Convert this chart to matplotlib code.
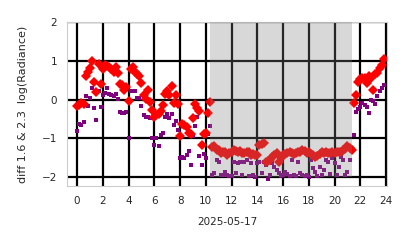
import matplotlib.pyplot as plt
import numpy as np

# 10-minute samples over the day (hours)
hours = np.arange(0, 24, 1 / 6)

# red diamonds
diff_red = [
    -0.16, -0.13, -0.10, -0.12, 0.62, 0.72,
    0.82, 0.99, 0.45, 0.20, 0.92, 0.40,
    0.78, 0.90, 0.86, 0.85, 0.78, 0.72,
    0.83, 0.68, 0.40, 0.37, 0.26, 0.33,
    -0.04, 0.80, 0.85, 0.70, 0.65, 0.60,
    0.43, 0.12, 0.02, 0.26, -0.05, -0.26,
    -0.45, -0.40, -0.36, -0.30, -0.15, 0.14,
    0.22, 0.13, 0.36, -0.08, 0.13, -0.12,
    -0.93, -0.63, -0.66, -0.72, -0.85, -0.90,
    -0.47, -0.12, -0.22, -0.30, -1.17, -0.88,
    -0.85, -0.35, -0.07, -1.22, -1.21, -1.30,
    -1.30, -1.38, -1.36, -1.35, -1.42, -1.38,
    -1.35, -1.30, -1.32, -1.35, -1.33, -1.38,
    -1.38, -1.35, -1.36, -1.42, -1.40, -1.42,
    -1.42, -1.17, -1.15, -1.12, -1.60, -1.58,
    -1.55, -1.47, -1.42, -1.38, -1.60, -1.50,
    -1.42, -1.40, -1.38, -1.36, -1.38, -1.40,
    -1.38, -1.36, -1.35, -1.30, -1.32, -1.38,
    -1.36, -1.40, -1.42, -1.47, -1.45, -1.40,
    -1.35, -1.38, -1.36, -1.38, -1.37, -1.35,
    -1.38, -1.36, -1.35, -1.34, -1.30, -1.28,
    -1.21, -1.24, -1.30, -0.09, 0.13, 0.45,
    0.52, 0.56, 0.56, 0.43, 0.60, 0.56,
    0.26, 0.65, 0.69, 0.82, 0.90, 1.04,
]

# purple squares
diff_purple = [
    -0.82, -0.62, -0.65, -0.58, 0.09, -0.16,
    0.04, 0.30, -0.22, -0.52, 0.22, -0.20,
    0.12, 0.17, 0.30, 0.14, 0.13, 0.10,
    0.15, 0.02, -0.32, -0.34, -0.34, -0.33,
    -0.99, 0.22, 0.22, 0.22, 0.04, 0.05,
    -0.17, -0.40, -0.45, -0.45, -0.48, -0.99,
    -1.17, -1.00, -1.21, -0.91, -0.85, -0.45,
    -0.37, -0.47, -0.37, -0.65, -0.55, -0.78,
    -1.51, -1.47, -1.51, -1.43, -1.32, -1.70,
    -0.95, -0.68, -0.45, -1.45, -1.70, -1.40,
    -1.51, -0.90, -0.69, -1.95, -1.90, -1.55,
    -1.60, -1.95, -1.95, -1.86, -1.95, -1.98,
    -1.98, -1.60, -1.90, -1.64, -1.60, -1.95,
    -1.60, -1.55, -1.98, -1.64, -1.95, -2.00,
    -1.64, -1.60, -1.90, -1.60, -1.68, -2.05,
    -1.95, -1.64, -1.73, -1.82, -1.90, -1.98,
    -1.95, -1.86, -1.92, -1.98, -1.55, -1.95,
    -1.98, -1.60, -1.90, -1.95, -1.98, -1.95,
    -2.00, -1.55, -1.77, -1.86, -1.98, -1.73,
    -1.95, -1.81, -1.55, -1.60, -1.92, -1.51,
    -1.64, -1.95, -1.73, -1.47, -1.55, -1.95,
    -1.86, -1.55, -1.31, -0.91, -0.31, -0.24,
    -0.19, -0.10, -0.14, -0.19, -0.35, 0.00,
    -0.03, -0.12, 0.08, 0.21, 0.30, 0.37,
]

night = (10.33, 21.33)
xticks = list(range(0, 25, 2))
yticks = [-2, -1, 0, 1, 2]

fig = plt.figure(figsize=(4.14, 2.48), dpi=100)
ax = fig.add_axes([0.162, 0.25, 0.773, 0.661])

ax.plot(hours, diff_purple, 's', color='purple', markersize=3.4, markeredgewidth=0)
ax.plot(hours, diff_red, 'D', color='red', markersize=4.6, markeredgewidth=0)
ax.fill_between(night, -2, 2, color='gray', alpha=0.3, linewidth=0, zorder=3)

ax.set_xlim(-0.78, 24.08)
ax.set_ylim(-2.23, 2.0)
ax.set_xticks(xticks)
ax.set_yticks(yticks)
ax.grid(True, color='black', linewidth=1.6)
ax.tick_params(length=0, pad=7, labelsize=7.5, colors='#262626')
for s in ax.spines.values():
    s.set_color('#cccccc')
    s.set_linewidth(0.8)

ax.set_xlabel('2025-05-17', fontsize=7.5, color='#262626', labelpad=8)
ax.set_ylabel('diff 1.6 & 2.3  log(Radiance)', fontsize=8, color='#262626', labelpad=10)

fig.savefig('out.png', dpi=100)
